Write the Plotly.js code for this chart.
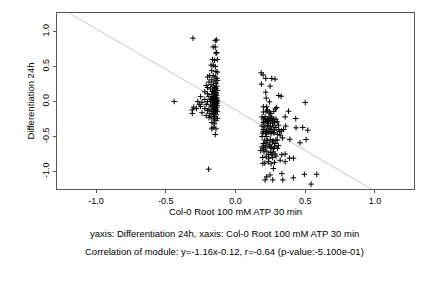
<!DOCTYPE html>
<html><head><meta charset="utf-8">
<script src="https://cdn.plot.ly/plotly-3.0.1.min.js"></script>
<style>html,body{margin:0;padding:0;background:#fff;}#chart{width:432px;height:288px;}</style>
</head><body><div id="chart"></div>
<script>
// Left cluster (x values, y values)
const leftX = [-0.44,-0.305,-0.193,
 -0.145,-0.135,-0.16,-0.145,-0.135,-0.14,-0.165,-0.15,-0.13,-0.16,-0.175,-0.145,-0.17,-0.14,-0.13,-0.185,-0.16,-0.145,-0.2,-0.17,-0.135,-0.13,-0.19,-0.155,-0.14,-0.21,-0.175,-0.16,-0.135,-0.2,-0.18,-0.15,-0.13,-0.22,-0.165,-0.14,-0.2,-0.17,-0.15,-0.135,-0.25,-0.19,-0.16,-0.14,-0.22,-0.18,-0.155,-0.13,-0.27,-0.24,-0.2,-0.165,-0.145,-0.13,-0.26,-0.21,-0.18,-0.155,-0.14,-0.3,-0.25,-0.17,-0.15,-0.135,-0.28,-0.22,-0.19,-0.16,-0.14,-0.31,-0.2,-0.17,-0.15,-0.13,-0.31,-0.24,-0.185,-0.16,-0.14,-0.21,-0.175,-0.15,-0.13,-0.19,-0.16,-0.14,-0.17,-0.15,-0.16,-0.14,-0.17,-0.145,
 -0.145,-0.15,-0.14,-0.155,-0.145,-0.16,-0.15,-0.14,-0.165,-0.145,-0.135,-0.16,-0.15,-0.14,-0.155,-0.13,-0.15,-0.145,-0.16,-0.14,-0.155,-0.135,-0.17,-0.15];
const leftY = [0.0,0.905,-0.967,
 0.87,0.88,0.78,0.78,0.70,0.69,0.60,0.59,0.60,0.52,0.52,0.50,0.44,0.43,0.42,0.37,0.37,0.35,0.35,0.31,0.33,0.30,0.28,0.28,0.26,0.23,0.24,0.22,0.22,0.20,0.18,0.17,0.16,0.14,0.14,0.13,0.11,0.10,0.10,0.09,0.07,0.07,0.06,0.05,0.03,0.03,0.02,0.02,0.0,-0.01,0.0,-0.01,-0.01,-0.02,-0.04,-0.04,-0.05,-0.04,-0.05,-0.08,-0.07,-0.07,-0.08,-0.09,-0.10,-0.10,-0.11,-0.11,-0.12,-0.12,-0.13,-0.14,-0.15,-0.14,-0.17,-0.16,-0.17,-0.18,-0.19,-0.20,-0.21,-0.22,-0.24,-0.23,-0.25,-0.27,-0.30,-0.32,-0.37,-0.39,-0.39,-0.47,
 0.0,0.04,-0.03,-0.06,0.08,-0.02,-0.10,0.11,0.04,-0.13,0.0,0.15,0.20,0.19,-0.17,-0.06,0.12,-0.08,0.07,0.02,-0.12,0.05,0.02,-0.03];
// Right cluster
const rightX = [0.184,0.198,0.217,0.26,0.284,0.186,0.248,0.217,0.31,0.327,0.22,0.243,0.2,0.224,0.296,0.286,0.38,0.5,0.22,0.243,0.19,0.212,0.24,0.26,0.356,0.432,0.2,0.235,0.265,0.308,0.482,0.434,0.518,0.2,0.224,0.248,0.272,0.315,0.33,0.19,0.224,0.337,0.39,0.506,0.463,0.212,0.253,0.272,0.308,0.18,0.2,0.236,0.26,0.284,0.332,0.356,0.387,0.415,0.32,0.356,0.196,0.272,0.332,0.494,0.582,0.248,0.224,0.212,0.267,0.339,0.415,0.542,
 0.2,0.215,0.23,0.245,0.26,0.275,0.29,0.205,0.22,0.235,0.25,0.265,0.28,0.3,0.19,0.21,0.23,0.25,0.27,0.29,0.2,0.22,0.24,0.26,0.28,0.31,0.195,0.215,0.235,0.255,0.275,0.3,0.21,0.23,0.25,0.27,0.29,0.2,0.22,0.245,0.265,0.285,0.19,0.215,0.24,0.26,0.28,0.3,0.205,0.225,0.25,0.27,0.195,0.22,0.24,0.265,0.29,0.21,0.235,0.255,0.28,0.2,0.23,0.25,0.275,0.345,0.36,0.3,0.32];
const rightY = [0.41,0.38,0.33,0.33,0.32,0.248,0.22,0.133,0.086,0.076,0.05,-0.005,-0.076,-0.076,-0.086,-0.105,-0.138,-0.014,-0.138,-0.152,-0.22,-0.22,-0.22,-0.22,-0.219,-0.243,-0.3,-0.31,-0.31,-0.338,-0.371,-0.376,-0.41,-0.43,-0.43,-0.43,-0.44,-0.43,-0.42,-0.5,-0.5,-0.52,-0.54,-0.543,-0.59,-0.63,-0.65,-0.67,-0.63,-0.7,-0.68,-0.76,-0.76,-0.75,-0.76,-0.75,-0.81,-0.81,-0.84,-0.86,-0.886,-0.957,-1.03,-1.04,-1.04,-1.05,-1.076,-1.12,-1.12,-1.12,-1.09,-1.18,
 -0.25,-0.24,-0.26,-0.25,-0.24,-0.26,-0.25,-0.28,-0.29,-0.27,-0.29,-0.28,-0.3,-0.29,-0.35,-0.36,-0.34,-0.36,-0.35,-0.37,-0.4,-0.41,-0.39,-0.4,-0.41,-0.4,-0.45,-0.46,-0.44,-0.46,-0.45,-0.47,-0.55,-0.56,-0.54,-0.56,-0.55,-0.6,-0.59,-0.61,-0.58,-0.6,-0.65,-0.66,-0.64,-0.66,-0.65,-0.67,-0.72,-0.71,-0.73,-0.72,-0.8,-0.79,-0.81,-0.8,-0.78,-0.88,-0.86,-0.89,-0.87,-0.15,-0.12,-0.17,-0.14,-0.4,-0.35,-0.55,-0.48];
const fitSlope = [-1.16];
const fitIntercept = [-0.12];
const xRange = [-1.28, 1.28];
const yRange = [-1.25, 1.265];
const xTicks = [-1.0, -0.5, 0.0, 0.5, 1.0];
const yTicks = [-1.0, -0.5, 0.0, 0.5, 1.0];
const xTitle = "Col-0 Root 100 mM ATP 30 min";
const yTitle = "Differentiation 24h";
const note1 = "yaxis: Differentiation 24h, xaxis: Col-0 Root 100 mM ATP 30 min";
const note2 = "Correlation of module: y=-1.16x-0.12, r=-0.64 (p-value:-5.100e-01)";

const lineX = xRange.slice();
const lineY = lineX.map(x => fitSlope[0]*x + fitIntercept[0]);
const fnt = "Liberation Sans, Arial, sans-serif";
const traces = [
 {x: lineX, y: lineY, mode: 'lines', line: {color: '#c8c8c8', width: 1}, hoverinfo: 'skip'},
 {x: leftX.concat(rightX), y: leftY.concat(rightY), mode: 'markers',
  marker: {symbol: 'cross-thin', size: 4, color: '#000', line: {color: '#000', width: 1}}}
];
const axBase = {showgrid: false, zeroline: false, showline: true, mirror: true, linecolor: '#555', linewidth: 1,
  ticks: 'outside', ticklen: 3, tickcolor: '#555', tickfont: {family: fnt, size: 9, color: '#000'}};
const layout = {
  width: 432, height: 288, showlegend: false,
  paper_bgcolor: '#fff', plot_bgcolor: '#fff',
  margin: {l: 57, r: 18, t: 13, b: 99},
  xaxis: Object.assign({}, axBase, {range: xRange, tickvals: xTicks, ticktext: xTicks.map(v => v.toFixed(1)),
    title: {text: xTitle, font: {family: fnt, size: 9.5, color: '#000'}, standoff: 3}}),
  yaxis: Object.assign({}, axBase, {range: yRange, tickvals: yTicks, ticktext: yTicks.map(v => v.toFixed(1)), tickangle: -90,
    title: {text: yTitle, font: {family: fnt, size: 9.5, color: '#000'}, standoff: 5}}),
  annotations: [
    {text: note1, xref: 'paper', yref: 'paper', x: 0.468, y: 0, yshift: -44, showarrow: false, xanchor: 'center', yanchor: 'middle', font: {family: fnt, size: 9.5, color: '#000'}},
    {text: note2, xref: 'paper', yref: 'paper', x: 0.468, y: 0, yshift: -62, showarrow: false, xanchor: 'center', yanchor: 'middle', font: {family: fnt, size: 9.5, color: '#000'}}
  ]
};
Plotly.newPlot('chart', traces, layout, {displayModeBar: false, staticPlot: true});
</script></body></html>
